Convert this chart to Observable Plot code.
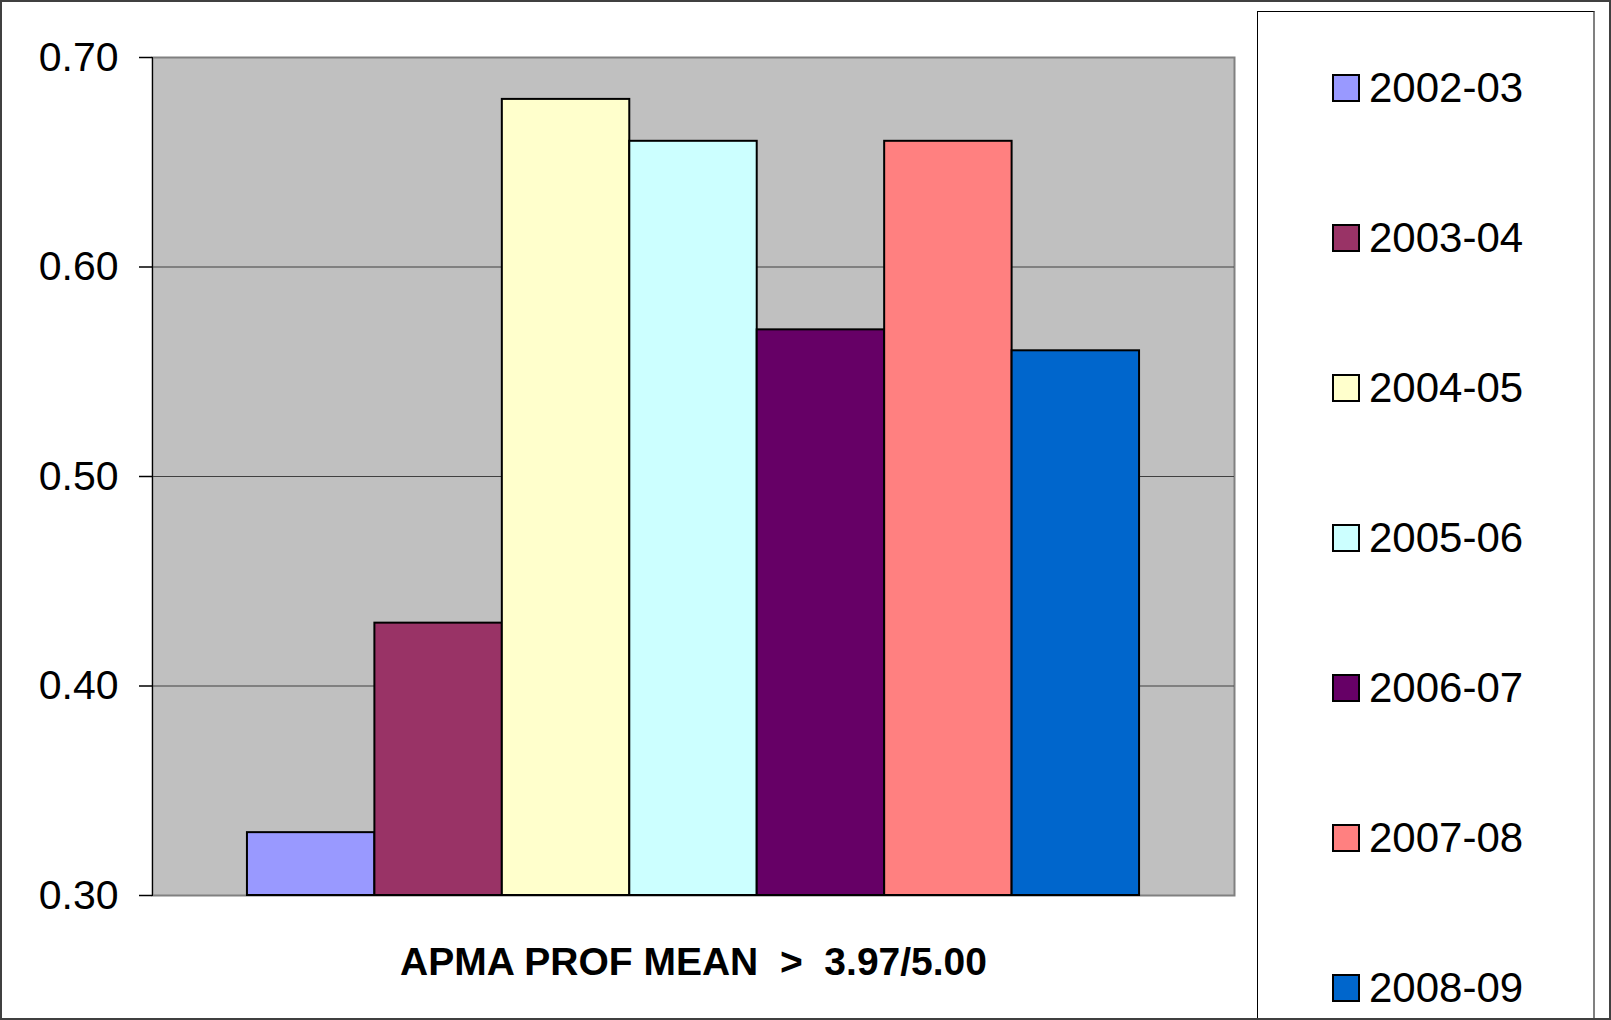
<!DOCTYPE html>
<html>
<head>
<meta charset="utf-8">
<script src="https://cdn.jsdelivr.net/npm/d3@7"></script>
<script src="https://cdn.jsdelivr.net/npm/@observablehq/plot@0.6"></script>
<style>
  html, body { margin: 0; padding: 0; background: #fff; }
  #wrap { position: relative; width: 1611px; height: 1020px; overflow: hidden; font-family: "Liberation Sans", Arial, sans-serif; }
  #border { position: absolute; left: 0; top: 0; width: 1611px; height: 1020px; box-sizing: border-box; border: 2px solid #404040; pointer-events: none; }
  #legend { position: absolute; left: 1257px; top: 11px; width: 338px; height: 1020px; box-sizing: border-box; border: 1px solid #000; border-right: 2px solid #808080; background: #fff; }
  .item { position: absolute; left: 74px; height: 50px; display: flex; align-items: center; }
  .sw { width: 28px; height: 28px; box-sizing: border-box; border: 2px solid #000; margin-right: 9px; }
  .lab { font-size: 42px; color: #000; line-height: 50px; white-space: nowrap; }
</style>
</head>
<body>
<div id="wrap"><div id="chart"></div><div id="legend"></div><div id="border"></div></div>
<script>
const series = ["2002-03", "2003-04", "2004-05", "2005-06", "2006-07", "2007-08", "2008-09"];
const values = [0.33, 0.43, 0.68, 0.66, 0.57, 0.66, 0.56];
const colors = ["#9999FF", "#993366", "#FFFFCC", "#CCFFFF", "#660066", "#FF8080", "#0066CC"];
const yTicks = [0.30, 0.40, 0.50, 0.60, 0.70];
const title = "APMA PROF MEAN  >  3.97/5.00";

const data = series.map((s, i) => ({series: s, value: values[i]}));
const yMin = yTicks[0];
const gridTicks = yTicks.slice(1, -1);

const chart = Plot.plot({
  width: 1611,
  height: 1020,
  marginLeft: 152,
  marginRight: 377,
  marginTop: 57,
  marginBottom: 125,
  style: {fontFamily: "'Liberation Sans', Arial, sans-serif", background: "transparent", color: "#000"},
  x: {type: "band", domain: series, paddingInner: 0, paddingOuter: 0.745, round: false, axis: null},
  y: {domain: [yTicks[0], yTicks[yTicks.length - 1]], ticks: yTicks, axis: null, label: null},
  color: {domain: series, range: colors},
  marks: [
    Plot.frame({fill: "#C0C0C0", stroke: "#808080", strokeWidth: 2}),
    Plot.ruleY(gridTicks, {stroke: "#404040", strokeWidth: 1}),
    Plot.barY(data, {x: "series", y1: d => yMin, y2: "value", fill: "series", stroke: "#000", strokeWidth: 2, insetLeft: 0, insetRight: 0}),
    Plot.axisY({ticks: yTicks, tickFormat: d3.format(".2f"), tickSize: 13, tickPadding: 21, fontSize: 41, stroke: "#000", strokeWidth: 1.5, label: null}),
    Plot.frame({anchor: "left", stroke: "#000", strokeWidth: 1}),
    Plot.text([title], {frameAnchor: "bottom", lineAnchor: "middle", dy: 67, fontSize: 39, fontWeight: "bold", fill: "#000"})
  ]
});
document.getElementById("chart").appendChild(chart);

const legend = document.getElementById("legend");
series.forEach((s, i) => {
  const item = document.createElement("div");
  item.className = "item";
  item.style.top = (88.4 + i * 150 - 11 - 1 - 25) + "px";
  const sw = document.createElement("div");
  sw.className = "sw";
  sw.style.background = colors[i];
  const lab = document.createElement("span");
  lab.className = "lab";
  lab.textContent = s;
  item.appendChild(sw);
  item.appendChild(lab);
  legend.appendChild(item);
});
</script>
</body>
</html>
